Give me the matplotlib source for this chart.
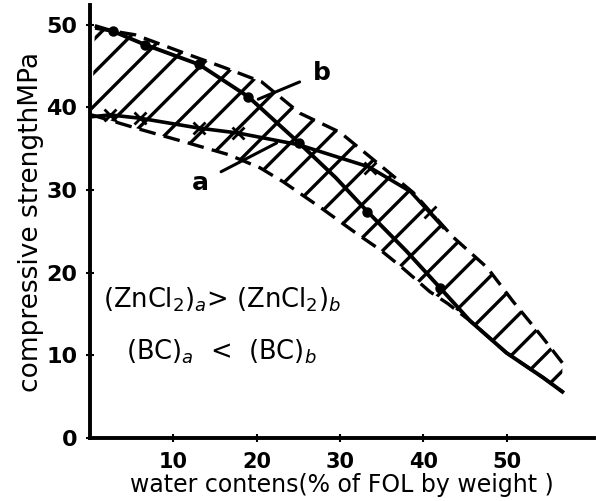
import matplotlib.pyplot as plt

# curve b (solid, dots)
b_x = [0.8, 2.8, 6.6, 13.1, 19.0, 25.1, 29.5, 33.3, 38.0, 42.0, 45.6, 50.0, 54.4, 56.7]
b_y = [49.8, 49.2, 47.6, 45.2, 41.3, 35.7, 31.5, 27.4, 22.6, 18.2, 14.2, 10.3, 7.3, 5.6]
b_mark_x = [2.8, 6.6, 13.1, 19.0, 25.1, 33.3, 42.0]
b_mark_y = [49.2, 47.6, 45.2, 41.3, 35.7, 27.4, 18.2]

# curve a (solid, crosses)
a_x = [0.4, 2.4, 6.0, 13.1, 17.8, 25.0, 33.5, 38.5, 42.4]
a_y = [38.9, 39.1, 38.7, 37.5, 36.9, 35.5, 32.8, 29.8, 25.5]
a_mark_x = [2.4, 6.0, 13.1, 17.8, 33.6, 40.8]
a_mark_y = [39.1, 38.7, 37.5, 36.9, 32.7, 27.4]

# hatched band edges
up_x = [0.6, 5.4, 11.0, 16.2, 20.6, 25.2, 30.0, 34.0, 38.8, 43.6, 47.7, 50.8, 54.3, 56.7]
up_y = [49.6, 48.8, 46.7, 44.8, 43.1, 39.3, 37.0, 33.7, 29.7, 24.3, 20.6, 16.5, 12.2, 9.1]
lo_x = [0.2, 6.2, 11.8, 16.6, 20.4, 23.2, 27.8, 32.2, 34.8, 37.5, 40.8, 42.9, 45.6, 50.0, 54.4, 56.7]
lo_y = [39.1, 37.3, 35.7, 34.3, 32.7, 31.0, 27.8, 24.6, 22.8, 20.6, 17.7, 16.3, 14.2, 10.3, 7.3, 5.6]

x_ticks = [10, 20, 30, 40, 50]
y_ticks = [0, 10, 20, 30, 40, 50]

plt.rcParams['hatch.linewidth'] = 2.4

fig = plt.figure(figsize=(5.96, 5.01), dpi=100)
ax = fig.add_axes([90 / 596, 63 / 501, 504 / 596, 433 / 501])
ax.set_xlim(0, 60.5)
ax.set_ylim(0, 52.4)

# band
ax.fill(up_x + lo_x[::-1], up_y + lo_y[::-1], facecolor='none',
        edgecolor='black', linewidth=0, hatch='/', zorder=1)
ax.plot(up_x, up_y, color='black', lw=2.4, ls=(0, (5, 2.5)), zorder=2)
ax.plot(lo_x, lo_y, color='black', lw=2.4, ls=(0, (5, 2.5)), zorder=2)

# curves
ax.plot(b_x, b_y, color='black', lw=2.8, zorder=3)
ax.plot(b_mark_x, b_mark_y, 'o', color='black', ms=6.5, zorder=4)
ax.plot(a_x, a_y, color='black', lw=2.6, zorder=3)
ax.plot(a_mark_x, a_mark_y, 'x', color='black', ms=8, mew=2, zorder=4)

# labels a / b
ax.annotate('a', xy=(22.4, 35.7), xytext=(13.2, 30.9), fontsize=18,
            fontweight='bold', ha='center', va='center',
            arrowprops=dict(arrowstyle='-', lw=2.2, color='black', shrinkA=8, shrinkB=0))
ax.annotate('b', xy=(20.2, 41.0), xytext=(27.8, 44.2), fontsize=18,
            fontweight='bold', ha='center', va='center',
            arrowprops=dict(arrowstyle='-', lw=2.2, color='black', shrinkA=8, shrinkB=0))

ax.text(15.8, 16.7, r'(ZnCl$_2$)$_a$> (ZnCl$_2$)$_b$', fontsize=18.5,
        ha='center', va='center')
ax.text(15.8, 10.4, r'(BC)$_a$  <  (BC)$_b$', fontsize=18.5,
        ha='center', va='center')

for s in ['top', 'right']:
    ax.spines[s].set_visible(False)
for s in ['left', 'bottom']:
    ax.spines[s].set_linewidth(2.8)

ax.set_xticks(x_ticks)
ax.set_yticks(y_ticks)
ax.tick_params(direction='inout', length=6, width=1.5, labelsize=16)
ax.tick_params(axis='x', labelsize=15)
for lab in ax.get_xticklabels() + ax.get_yticklabels():
    lab.set_fontweight('bold')
ax.tick_params(axis='y', pad=6)
ax.tick_params(axis='x', pad=7)

ax.set_xlabel('water contens(% of FOL by weight )', fontsize=17, labelpad=1)
ax.set_ylabel('compressive strengthMPa', fontsize=19, labelpad=2)

fig.savefig('out.png', dpi=100)
